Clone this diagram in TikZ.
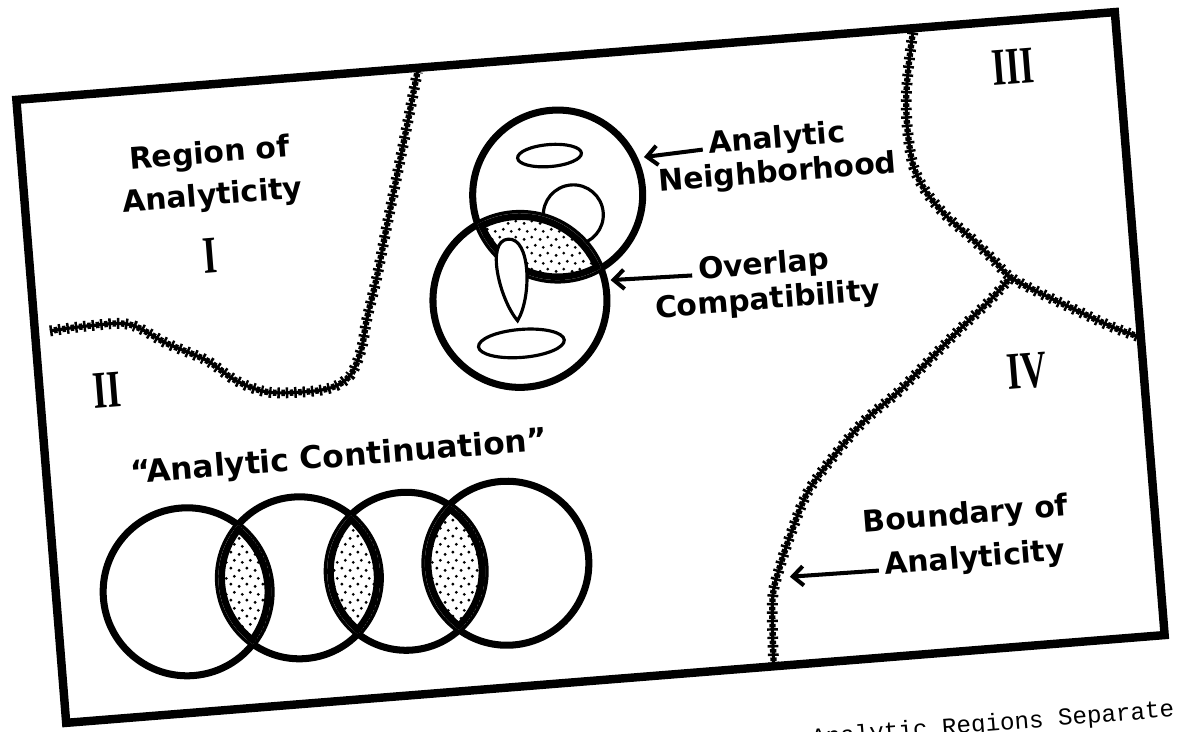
\documentclass[tikz,border=0pt]{standalone}
\usepackage{fontspec}
\newfontfamily\labfont{DejaVu Sans}
\newfontfamily\capfont{Liberation Mono}
\newfontfamily\romfont{Liberation Serif}
\usetikzlibrary{arrows.meta,patterns}
\pgfdeclarepatternformonly{stipple}{\pgfqpoint{0pt}{0pt}}{\pgfqpoint{9pt}{9pt}}{\pgfqpoint{9pt}{9pt}}{%
  \pgfpathcircle{\pgfqpoint{1.2pt}{1.5pt}}{0.9pt}%
  \pgfpathcircle{\pgfqpoint{5.6pt}{2.8pt}}{0.9pt}%
  \pgfpathcircle{\pgfqpoint{3.0pt}{6.1pt}}{0.9pt}%
  \pgfpathcircle{\pgfqpoint{7.6pt}{7.3pt}}{0.9pt}%
  \pgfusepath{fill}}
\tikzset{
  frameline/.style={line width=4.8pt, line join=miter},
  bigcirc/.style={line width=4pt},
  thinline/.style={line width=1.8pt},
  bound/.style={line width=1.8pt,
      postaction={draw, line width=6.2pt, dash pattern=on 1.4pt off 3.4pt},
      postaction={draw, line width=3.6pt, dash pattern=on 2.0pt off 2.8pt, dash phase=2.5pt}},
  lab/.style={font=\labfont\bfseries\fontsize{17}{20}\selectfont, inner sep=0.5pt,
      text height=0.72em, text depth=0.21em},
  roman/.style={font=\romfont\bfseries\fontsize{30}{32}\selectfont, inner sep=1pt},
  capnode/.style={font=\capfont\fontsize{13.8}{16}\selectfont, inner sep=0pt},
  arr/.style={line width=2.3pt, shorten <=3pt, -{Straight Barb[length=6pt,width=11pt,line width=2.3pt]}},
}
\newcommand\mylens[4]{%
  \begin{scope}
    \clip (#1) circle[radius=#2];
    \clip (#3) circle[radius=#4];
    \fill[white] (#1) circle[radius=#2];
    \fill[pattern=stipple] (#1) circle[radius=#2];
    \draw[line width=7.5pt] (#1) circle[radius=#2];
    \draw[line width=7.5pt] (#3) circle[radius=#4];
  \end{scope}}
\begin{document}
\begin{tikzpicture}[x=0.02cm, y=-0.02cm]
\useasboundingbox (0,0) rectangle (1177,732);
\clip (0,0) rectangle (1177,732);
\fill[white] (0,0) rectangle (1177,732);
\begin{scope}[shift={(590,361)}, rotate=4.57, every node/.append style={transform shape}]
  % frame
  \draw[frameline] (-551,-306) rectangle (551,319);
  % boundaries
  \draw[bound] plot[smooth, tension=0.55] coordinates {(-536,-73) (-495,-75) (-456,-73) (-420,-51) (-382,-31) (-355,-9) (-325,5) (-290,8) (-260,6) (-240,-5) (-227,-30) (-219,-60) (-206,-100) (-192,-150) (-178,-199) (-164,-248) (-149,-302)};
  \draw[bound] plot[smooth, tension=0.55] coordinates {(348,-302) (341,-268) (336,-235) (335,-202) (338,-168) (349,-141) (367,-116) (391,-91) (410,-69) (426,-50) (454,-32) (492,-10) (524,8) (548,19)};
  \draw[bound] plot[smooth, tension=0.55] coordinates {(426,-50) (404,-29) (371,-2) (334,30) (304,56) (268,82) (232,118) (206,149) (187,187) (173,220) (163,252) (159,315)};
  % region labels
  \node[lab] (regof) at (-363,-232) {Region of};
  \node[lab] (regana) at (-363,-190) {Analyticity};
  \node[roman] (rI) at (-370,-135) {\scalebox{0.68}[1]{I}};
  \node[roman] (rII) at (-484,-9) {\scalebox{0.68}[1]{II}};
  \node[roman] (rIII) at (445,-260) {\scalebox{0.68}[1]{III}};
  \node[roman] (rIV) at (435,45) {\scalebox{0.68}[1]{IV}};
  % neighborhood figure
  \coordinate (cU) at (-19,-168);
  \coordinate (cL) at (-65,-66);
  \draw[bigcirc] (cU) circle[radius=85];
  \draw[bigcirc] (cL) circle[radius=87];
  \draw[thinline] (-5,-147) circle[radius=30];
  \draw[thinline] (-24,-208) ellipse[x radius=32, y radius=11];
  \draw[thinline] (-67,-23) ellipse[x radius=43, y radius=14];
  \mylens{cU}{85}{cL}{87}
  \draw[thinline, fill=white] (-72,-128) .. controls (-49,-128) and (-53,-68) .. (-69,-46) .. controls (-85,-68) and (-95,-128) .. (-72,-128);
  % labels with arrows
  \node[lab] (nbA) at (204,-202) {Analytic};
  \node[lab] (nbN) at (202,-168) {Neighborhood};
  \node[lab] (ovO) at (181,-77) {Overlap};
  \node[lab] (ovC) at (182,-42) {Compatibility};
  \node[lab] (bdB) at (362,188) {Boundary of};
  \node[lab] (bdA) at (368,232) {Analyticity};
  \coordinate (tipN) at (70,-199);
  \coordinate (tipO) at (27,-79);
  \coordinate (tipB) at (182,231);
  \draw[arr] (nbA.west) -- (tipN);
  \draw[arr] (ovO.west) -- (tipO);
  \draw[arr] (bdA.west) -- (tipB);
  % analytic continuation
  \node[lab, font=\labfont\bfseries\fontsize{17.8}{20}\selectfont] (cont) at (-258,81) {“Analytic Continuation”};
  \coordinate (k1) at (-420,198);
  \coordinate (k2) at (-307,193);
  \coordinate (k3) at (-200,195);
  \coordinate (k4) at (-99,195);
  \draw[bigcirc] (k1) circle[radius=84];
  \draw[bigcirc] (k2) circle[radius=81];
  \draw[bigcirc] (k3) circle[radius=79];
  \draw[bigcirc] (k4) circle[radius=82];
  \mylens{k1}{84}{k2}{81}
  \mylens{k2}{81}{k3}{79}
  \mylens{k3}{79}{k4}{82}
  % caption (cut by the page edge)
  \node[capnode, anchor=base east] (cap) at (555,401) {Analytic Regions Separate};
\end{scope}
\end{tikzpicture}
\end{document}
